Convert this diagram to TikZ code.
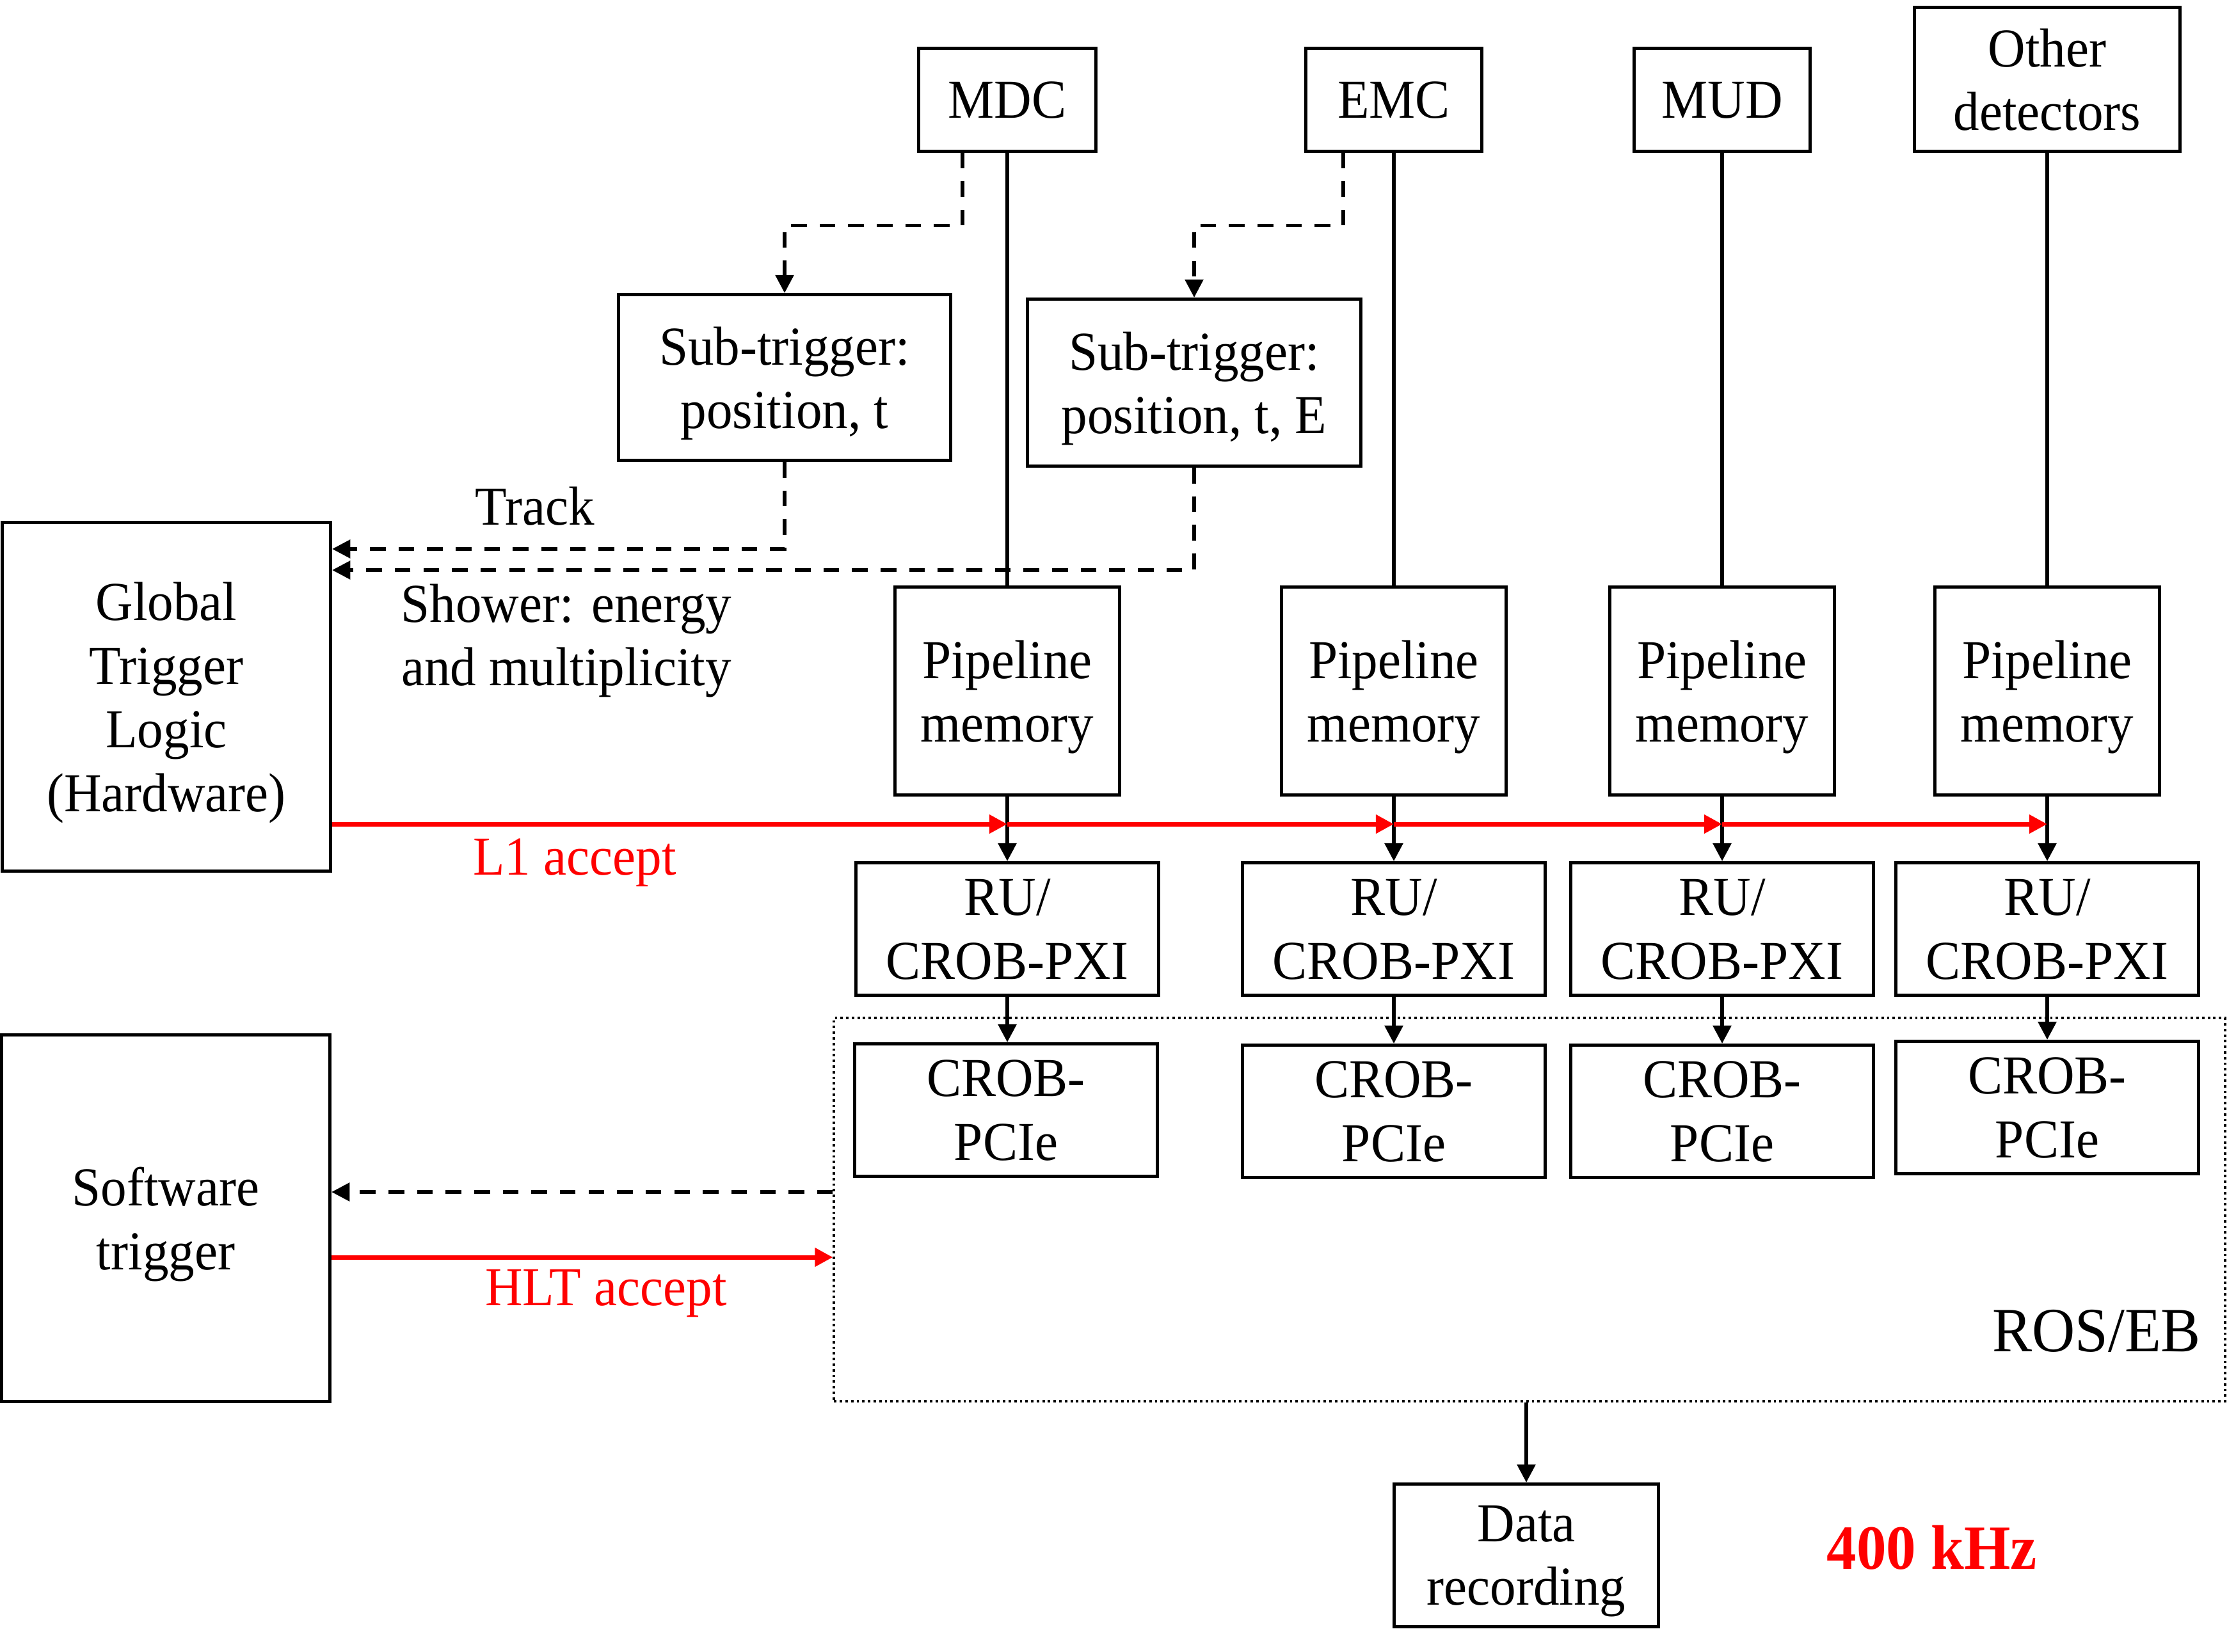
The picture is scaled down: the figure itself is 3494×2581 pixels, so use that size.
\documentclass[tikz,border=0pt]{standalone}
\usepackage{fontspec}
\setmainfont[FakeStretch=0.945]{Liberation Serif}
\usetikzlibrary{arrows.meta}
\begin{document}
\begin{tikzpicture}[x=0.01cm,y=-0.01cm,
  box/.style={draw, line width=1.4pt, inner sep=0pt, align=center, text depth=0pt, font=\fontsize{24.4}{28.3}\selectfont},
  lbl/.style={inner sep=0pt, align=center, text depth=0pt, font=\fontsize{24.4}{28.3}\selectfont},
  arr/.style={line width=1.6pt, -{Triangle[length=8pt,width=8pt]}},
  dsh/.style={line width=1.5pt, dash pattern=on 7pt off 5.7pt},
  rosbox/.style={draw, line width=1.1pt, dash pattern=on 1.1pt off 1.4pt, inner sep=0pt},
  redarr/.style={arr, line width=2pt, draw=red, fill=red}
]
\useasboundingbox (0,0) rectangle (3494,2581);

% detectors
\node[box, minimum width=2.76cm, minimum height=1.60cm] (mdc) at (1574,156) {MDC};
\node[box, minimum width=2.74cm, minimum height=1.60cm] (emc) at (2178,156) {EMC};
\node[box, minimum width=2.74cm, minimum height=1.60cm] (mud) at (2691,156) {MUD};
\node[box, minimum width=4.15cm, minimum height=2.25cm] (oth) at (3199,124) {Other\\detectors};

% sub-triggers
\node[box, minimum width=5.19cm, minimum height=2.59cm] (sub1) at (1226,590) {Sub-trigger:\\position, t};
\node[box, minimum width=5.20cm, minimum height=2.61cm] (sub2) at (1866,598) {Sub-trigger:\\position, t, E};

% pipelines
\node[box, minimum width=3.50cm, minimum height=3.25cm] (p1) at (1574,1080) {Pipeline\\memory};
\node[box, minimum width=3.50cm, minimum height=3.25cm] (p2) at (2178,1080) {Pipeline\\memory};
\node[box, minimum width=3.50cm, minimum height=3.25cm] (p3) at (2691,1080) {Pipeline\\memory};
\node[box, minimum width=3.50cm, minimum height=3.25cm] (p4) at (3199,1080) {Pipeline\\memory};

% RU
\node[box, minimum width=4.72cm, minimum height=2.07cm] (ru1) at (1574,1452) {RU/\\CROB-PXI};
\node[box, minimum width=4.72cm, minimum height=2.07cm] (ru2) at (2178,1452) {RU/\\CROB-PXI};
\node[box, minimum width=4.72cm, minimum height=2.07cm] (ru3) at (2691,1452) {RU/\\CROB-PXI};
\node[box, minimum width=4.72cm, minimum height=2.07cm] (ru4) at (3199,1452) {RU/\\CROB-PXI};

% ROS/EB
\node[rosbox, minimum width=21.72cm, minimum height=5.99cm] (ros) at (2390,1890.5) {};
\node[lbl, font=\fontsize{28}{32}\selectfont] (roslbl) at (3276,2080) {ROS/EB};

% PCIe
\node[box, minimum width=4.72cm, minimum height=2.07cm] (pc1) at (1572,1735) {CROB-\\PCIe};
\node[box, minimum width=4.72cm, minimum height=2.07cm] (pc2) at (2178,1737) {CROB-\\PCIe};
\node[box, minimum width=4.72cm, minimum height=2.07cm] (pc3) at (2691,1737) {CROB-\\PCIe};
\node[box, minimum width=4.72cm, minimum height=2.07cm] (pc4) at (3199,1731) {CROB-\\PCIe};

% left boxes
\node[box, minimum width=5.13cm, minimum height=5.45cm] (gtl) at (260,1089) {Global\\Trigger\\Logic\\(Hardware)};
\node[box, minimum width=5.13cm, minimum height=5.72cm] (sw) at (259,1904) {Software\\trigger};

% data recording
\node[box, minimum width=4.13cm, minimum height=2.23cm] (rec) at (2385,2431) {Data\\recording};
\node[lbl, text=red, font=\fontsize{28}{32}\selectfont\bfseries] (khz) at (3019,2418) {400 kHz};

% labels
\node[lbl] (trk) at (836,791) {Track};
\node[lbl] (shw) at (885,992) {Shower: energy\\and multiplicity};
\node[lbl, text=red] (l1lbl) at (898,1339) {L1 accept};
\node[lbl, text=red] (hltlbl) at (947,2012) {HLT accept};

% helper coordinates
\coordinate (tk) at (0,858);
\coordinate (sh) at (0,891);
\coordinate (l1) at (0,1288);
\coordinate (hs) at (0,1863);
\coordinate (hl) at (0,1965);

% detector -> sub-trigger (dashed)
\draw[dsh, arr, line width=1.5pt] ([xshift=-0.70cm]mdc.south) -- ++(0,114) -| (sub1.north);
\draw[dsh, arr, line width=1.5pt] ([xshift=-0.79cm]emc.south) -- ++(0,114) -| (sub2.north);

% sub-trigger -> global trigger
\draw[dsh, arr, line width=1.5pt] (sub1.south) |- (gtl.east |- tk);
\draw[dsh, arr, line width=1.5pt] (sub2.south) |- (gtl.east |- sh);

% detector -> pipeline
\draw[line width=1.6pt] (mdc.south) -- (p1.north);
\draw[line width=1.6pt] (emc.south) -- (p2.north);
\draw[line width=1.6pt] (mud.south) -- (p3.north);
\draw[line width=1.6pt] (oth.south) -- (p4.north);

% pipeline -> RU -> PCIe
\draw[arr] (p1.south) -- (ru1.north);
\draw[arr] (p2.south) -- (ru2.north);
\draw[arr] (p3.south) -- (ru3.north);
\draw[arr] (p4.south) -- (ru4.north);
\draw[arr] (ru1.south) -- (ru1.south |- pc1.north);
\draw[arr] (ru2.south) -- (pc2.north);
\draw[arr] (ru3.south) -- (pc3.north);
\draw[arr] (ru4.south) -- (pc4.north);

% L1 accept
\draw[redarr] (gtl.east |- l1) -- (p1.south |- l1);
\draw[redarr] (p1.south |- l1) -- (p2.south |- l1);
\draw[redarr] (p2.south |- l1) -- (p3.south |- l1);
\draw[redarr] (p3.south |- l1) -- (p4.south |- l1);

% ROS/EB <-> software trigger
\draw[dsh, arr, line width=1.5pt] (ros.west |- hs) -- (sw.east |- hs);
\draw[redarr] (sw.east |- hl) -- (ros.west |- hl);

% ROS/EB -> data recording
\draw[arr] (rec.north |- ros.south) -- (rec.north);
\end{tikzpicture}
\end{document}
